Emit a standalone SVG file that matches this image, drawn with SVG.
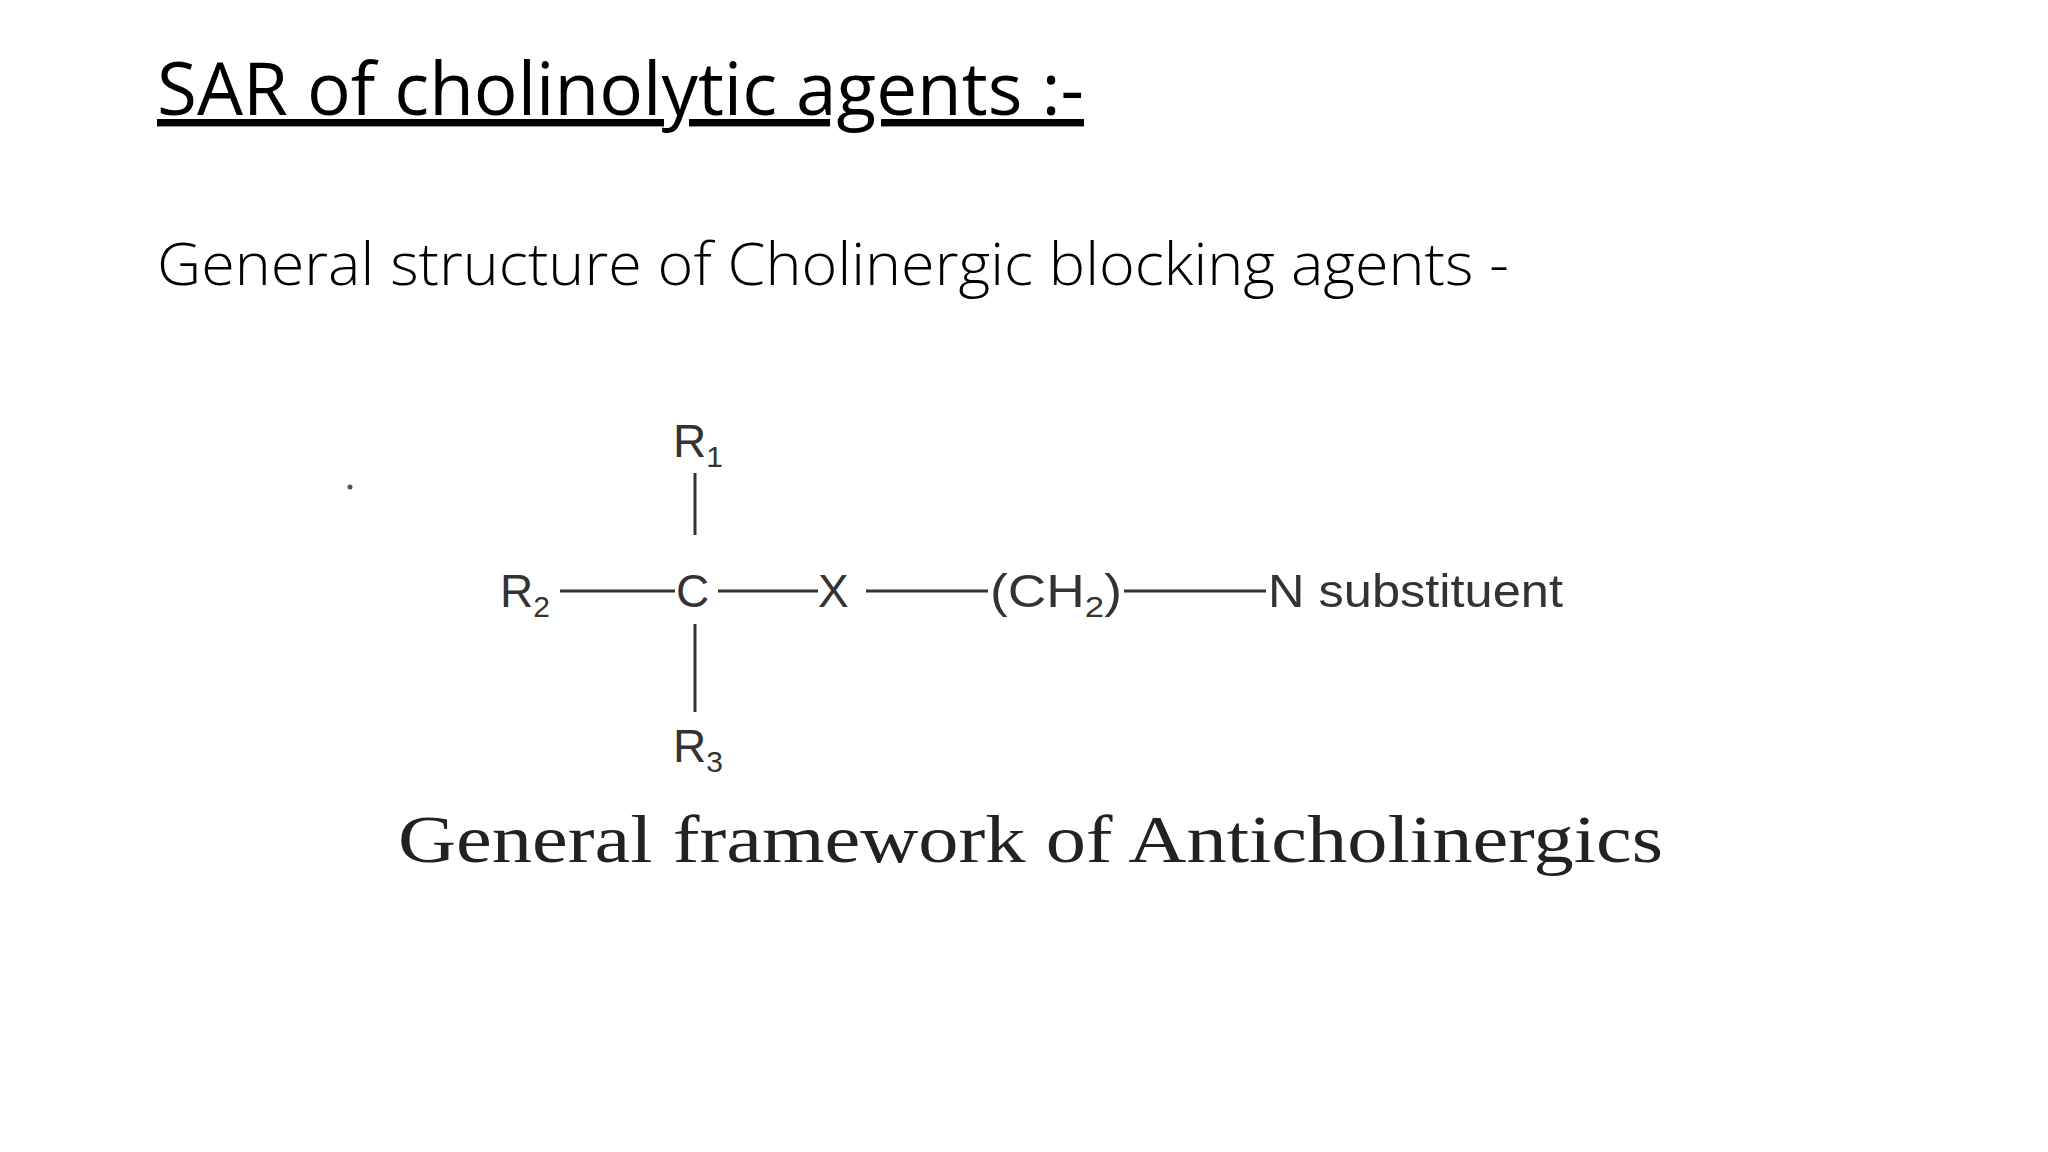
<svg xmlns="http://www.w3.org/2000/svg" width="2048" height="1152" viewBox="0 0 2048 1152">
<style>
.h{font-family:"Open Sans","Liberation Sans",sans-serif;fill:#000}
.m{font-family:"Liberation Sans",Arial,sans-serif;font-size:46px;fill:#333}
.s{font-size:30px}
.b{stroke:#333;stroke-width:3;fill:none}
</style>
<rect width="2048" height="1152" fill="#fff"/>
<g id="title"><text class="h" x="157" y="115" font-size="74" textLength="927" lengthAdjust="spacingAndGlyphs" text-decoration="underline">SAR of cholinolytic agents :-</text></g>
<g id="subtitle"><text class="h" x="157" y="285" font-size="58" textLength="1352" lengthAdjust="spacingAndGlyphs" font-weight="300">General structure of Cholinergic blocking agents -</text></g>
<circle cx="350" cy="487" r="2.5" fill="#555"/>
<g id="r1"><text class="m" x="673" y="457">R<tspan class="s" dy="10">1</tspan></text></g>
<g id="r2"><text class="m" x="500" y="607">R<tspan class="s" dy="10">2</tspan></text></g>
<g id="c"><text class="m" x="676" y="607">C</text></g>
<g id="x"><text class="m" x="818" y="607">X</text></g>
<g id="ch2"><text class="m" x="990" y="607" textLength="132" lengthAdjust="spacingAndGlyphs">(CH<tspan class="s" dy="10">2</tspan><tspan dy="-10">)</tspan></text></g>
<g id="n"><text class="m" x="1268" y="607" textLength="295" lengthAdjust="spacingAndGlyphs">N substituent</text></g>
<g id="r3"><text class="m" x="673" y="762">R<tspan class="s" dy="10">3</tspan></text></g>
<g id="connectors">
<line class="b" x1="695" y1="473" x2="695" y2="535"/>
<line class="b" x1="695" y1="624" x2="695" y2="712"/>
<line class="b" x1="560" y1="591" x2="675" y2="591"/>
<line class="b" x1="718" y1="591" x2="818" y2="591"/>
<line class="b" x1="866" y1="591" x2="988" y2="591"/>
<line class="b" x1="1124" y1="591" x2="1266" y2="591"/>
</g>
<g id="caption"><text x="398" y="862" font-family="Liberation Serif,serif" font-size="68" fill="#222" textLength="1265" lengthAdjust="spacingAndGlyphs">General framework of Anticholinergics</text></g>
</svg>
